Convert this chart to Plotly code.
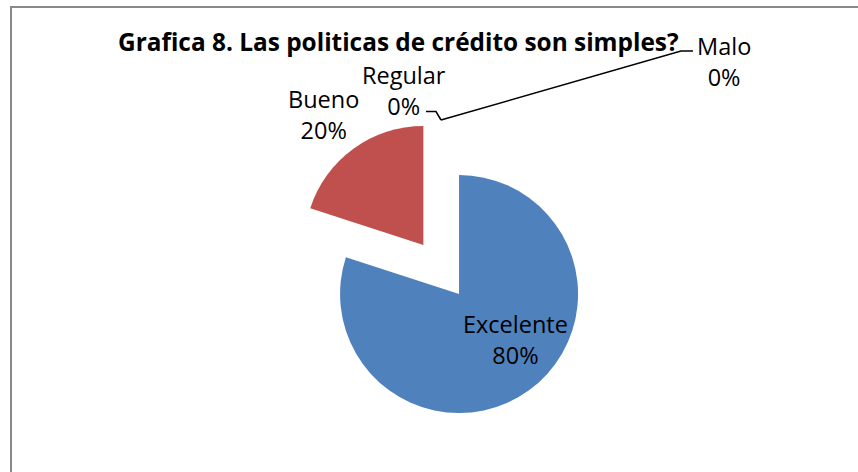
import plotly.graph_objects as go

# ---- data ----
categories = ["Excelente", "Bueno", "Regular", "Malo"]
values = [80, 20, 0, 0]
colors = ["#4F81BD", "#C0504D", "#9BBB59", "#8064A2"]
title_text = "Grafica 8. Las politicas de crédito son simples?"

W, H = 858, 472

def px(x):
    return x / W

def py(y):
    return 1 - y / H

total = sum(values)
pcts = [round(v * 100 / total) for v in values]
label_texts = [f"{c}<br>{p}%" for c, p in zip(categories, pcts)]

# label block centres (pixels), per category
label_pos = {
    "Excelente": (515, 339),
    "Bueno": (323, 114),
    "Regular": (404, 90.5),
    "Malo": (724, 62),
}

fig = go.Figure()
fig.add_trace(go.Pie(
    labels=categories,
    values=values,
    sort=False,
    direction="clockwise",
    rotation=0,
    pull=0.255,
    marker=dict(colors=colors, line=dict(width=0)),
    textinfo="none",
    hoverinfo="label+percent",
    showlegend=False,
    domain=dict(x=[0.3402, 0.6883], y=[0.1126, 0.7454]),
))

label_font = dict(family="Open Sans, Liberation Sans, sans-serif", size=23.5, color="#000000")
annotations = []
for c, t in zip(categories, label_texts):
    x, y = label_pos[c]
    annotations.append(dict(
        x=px(x), y=py(y), xref="paper", yref="paper",
        text=t, showarrow=False, font=label_font,
        xanchor="center", yanchor="middle", align="center",
    ))

annotations.append(dict(
    x=px(398), y=py(41.5), xref="paper", yref="paper",
    text=f"<b>{title_text}</b>", showarrow=False,
    font=dict(family="Open Sans, Liberation Sans, sans-serif", size=24.4, color="#000000"),
    xanchor="center", yanchor="middle",
))

def path(points):
    return "M " + " L ".join(f"{px(x):.5f},{py(y):.5f}" for x, y in points)

shapes = [
    # chart frame
    dict(type="path", xref="paper", yref="paper",
         path=path([(11, 480), (11, 7), (870, 7)]),
         line=dict(color="#898989", width=2)),
    # leader line Regular
    dict(type="path", xref="paper", yref="paper",
         path=path([(426, 111.5), (436, 111.5), (441, 120)]),
         line=dict(color="#000000", width=1.5)),
    # leader line Malo
    dict(type="path", xref="paper", yref="paper",
         path=path([(441, 120), (681, 51), (693, 51)]),
         line=dict(color="#000000", width=1.5)),
]

fig.update_layout(
    width=W, height=H, autosize=False,
    margin=dict(l=0, r=0, t=0, b=0),
    paper_bgcolor="#FFFFFF", plot_bgcolor="#FFFFFF",
    annotations=annotations, shapes=shapes,
    showlegend=False,
)

fig.write_html("out.html")
